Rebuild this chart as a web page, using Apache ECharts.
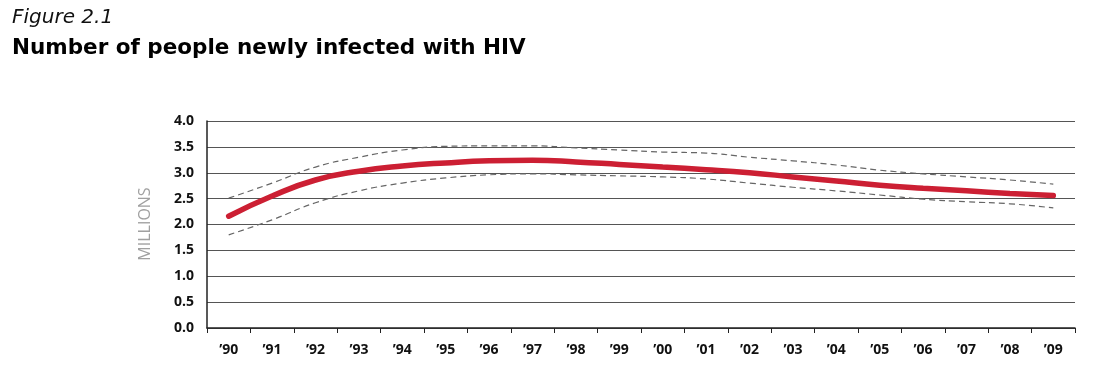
<!DOCTYPE html>
<html><head><meta charset="utf-8">
<script src="https://cdn.jsdelivr.net/npm/echarts@6/dist/echarts.min.js"></script>
<style>html,body{margin:0;padding:0;background:#fff}#c{width:1098px;height:373px}</style>
</head><body><div id="c"></div>
<script>
const years = ["’90","’91","’92","’93","’94","’95","’96","’97","’98","’99","’00","’01","’02","’03","’04","’05","’06","’07","’08","’09"];
const estimate = [2.16,2.55,2.86,3.03,3.13,3.19,3.23,3.24,3.21,3.16,3.11,3.06,3.00,2.92,2.84,2.76,2.70,2.65,2.60,2.56];
const upperBound = [2.51,2.80,3.11,3.30,3.44,3.51,3.52,3.52,3.48,3.44,3.40,3.38,3.30,3.23,3.15,3.05,2.98,2.92,2.86,2.78];
const lowerBound = [1.80,2.09,2.42,2.65,2.80,2.90,2.96,2.98,2.96,2.94,2.92,2.88,2.80,2.72,2.65,2.57,2.49,2.44,2.40,2.32];
const yTicks = [0,0.5,1,1.5,2,2.5,3,3.5,4];

const chart = echarts.init(document.getElementById('c'));
const font = '"Open Sans", Lato, sans-serif';
const titleFont = '"DejaVu Sans", sans-serif';
chart.setOption({
  animation:false,
  textStyle:{fontFamily:font},
  title:[
    {text:'Figure 2.1', left:12, top:8, padding:0, textStyle:{fontFamily:titleFont, fontStyle:'italic', fontWeight:'normal', fontSize:20, color:'#111'}},
    {text:'Number of people newly infected with HIV', left:12, top:37, padding:0, textStyle:{fontFamily:titleFont, fontWeight:'bold', fontSize:21.5, color:'#000'}}
  ],
  graphic:[{type:'text', x:145, y:224, rotation:Math.PI/2,
    style:{text:'MILLIONS', fontFamily:font, fontSize:16, fill:'#a0a0a0', align:'center', verticalAlign:'middle'}}],
  grid:{left:207, right:23, top:121, bottom:45},
  xAxis:{type:'category', data:years, boundaryGap:true,
    axisLine:{lineStyle:{color:'#222', width:1.5}},
    axisTick:{show:true, length:5, lineStyle:{color:'#222'}},
    axisLabel:{fontSize:14, fontWeight:'bold', color:'#111', margin:15, fontFamily:font}},
  yAxis:{type:'value', min:0, max:4, interval:0.5,
    axisLine:{show:true, lineStyle:{color:'#222', width:1.5}},
    axisTick:{show:false},
    splitLine:{lineStyle:{color:'#555', width:1}},
    axisLabel:{fontSize:14, fontWeight:'bold', color:'#111', margin:13, fontFamily:font,
      formatter:v=>v.toFixed(1)}},
  series:[
    {type:'line', data:upperBound, smooth:true, symbol:'none', lineStyle:{color:'#666', width:1.2, type:[6,4]}},
    {type:'line', data:lowerBound, smooth:true, symbol:'none', lineStyle:{color:'#666', width:1.2, type:[6,4]}},
    {type:'line', data:estimate, smooth:true, symbol:'none', lineStyle:{color:'#cc1f33', width:5.5, cap:'round'}}
  ]
});
</script></body></html>
